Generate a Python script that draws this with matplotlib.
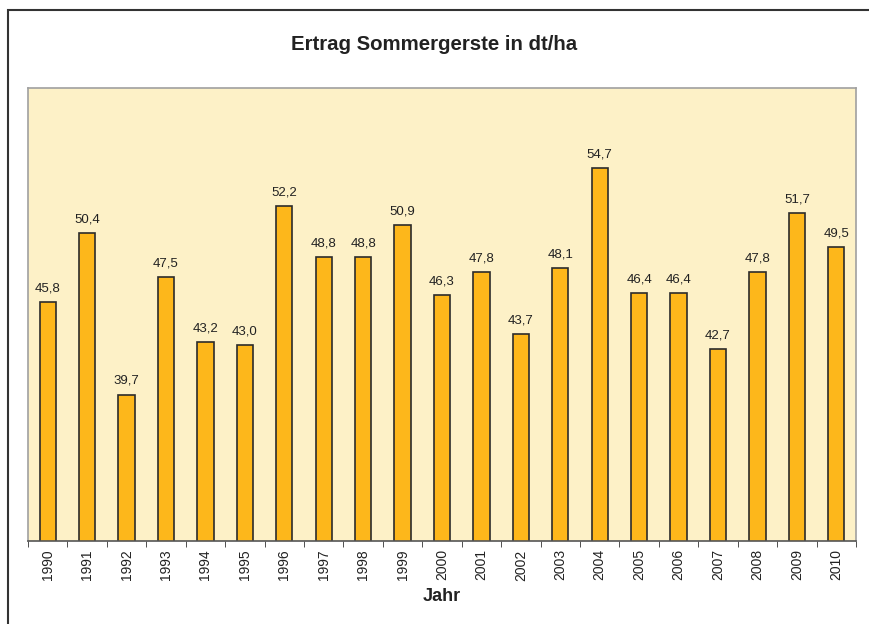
import matplotlib
matplotlib.use("Agg")
import matplotlib.pyplot as plt
import numpy as np

plt.rcParams['font.family'] = ['Liberation Sans', 'DejaVu Sans']

years = [str(y) for y in range(1990, 2011)]
ertrag = [45.8, 50.4, 39.7, 47.5, 43.2, 43.0, 52.2, 48.8, 48.8, 50.9, 46.3,
          47.8, 43.7, 48.1, 54.7, 46.4, 46.4, 42.7, 47.8, 51.7, 49.5]

fig = plt.figure(figsize=(8.69, 6.24), dpi=100)
# outer chart frame
fig.add_artist(plt.Rectangle((8/869, -0.1), 2, (624-10)/624 + 0.1,
                             transform=fig.transFigure, fill=False,
                             edgecolor="#333333", linewidth=1.5))

ax = fig.add_axes([28/869, (624-541)/624, (856-28)/869, (541-88)/624])
ax.set_facecolor("#FDF1C7")
x = np.arange(len(years))
ax.bar(x, ertrag, width=0.41, color="#FDB71B", edgecolor="#2b2b2b", linewidth=1.2)
for xi, v in zip(x, ertrag):
    ax.text(xi, v + 0.5, f"{v:.1f}".replace(".", ","), ha="center", va="bottom",
            fontsize=9.5, color="#222222")

ax.set_xlim(-0.5, len(years) - 0.5)
ax.set_ylim(30, 60)
ax.set_yticks([])
ax.set_xticks(x)
ax.set_xticklabels(years, rotation=90, fontsize=10, color="#222222")
ax.tick_params(axis="x", which="major", length=0, pad=6)
ax.set_xticks(np.arange(-0.5, len(years), 1), minor=True)
ax.tick_params(axis="x", which="minor", length=4, direction="out", color="#333333")
for s in ["left", "right", "top"]:
    ax.spines[s].set_color("#a0a0a0")
    ax.spines[s].set_linewidth(1.2)
ax.spines["bottom"].set_color("#555555")
ax.spines["bottom"].set_linewidth(1.2)

ax.set_xlabel("Jahr", fontsize=13, fontweight="bold", labelpad=5, color="#222222")
fig.text(0.5, (624-45)/624, "Ertrag Sommergerste in dt/ha", ha="center", va="center",
         fontsize=14.7, fontweight="bold", color="#222222")

plt.savefig("out.png", dpi=100)
